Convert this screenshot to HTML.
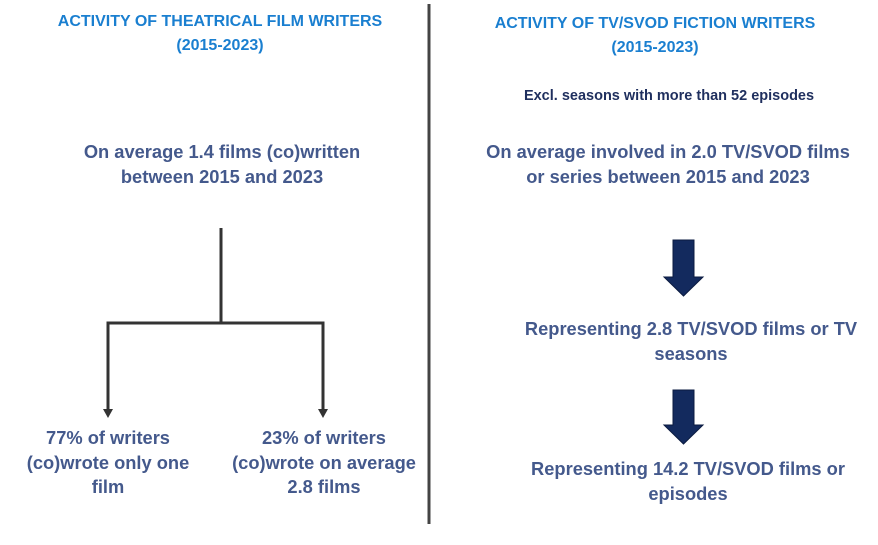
<!DOCTYPE html>
<html><head><meta charset="utf-8"><style>
body{margin:0;width:878px;height:545px;background:#fff;position:relative;overflow:hidden;font-family:"Liberation Sans",sans-serif;font-weight:bold}
.t{position:absolute;transform:translateX(-50%);text-align:center;white-space:nowrap}
.h{color:#1a7fd0;font-size:16px;line-height:24px}
.b{color:#44598c;font-size:18.3px;line-height:24.5px}
</style></head><body>
<div class="t h" style="left:220px;top:10px">ACTIVITY OF THEATRICAL FILM WRITERS<br>(2015-2023)</div>
<div class="t h" style="left:655px;top:12px">ACTIVITY OF TV/SVOD FICTION WRITERS<br>(2015-2023)</div>
<div class="t" style="left:669px;top:88px;color:#1f2f5e;font-size:14.5px">Excl. seasons with more than 52 episodes</div>
<div class="t b" style="left:222px;top:140px">On average 1.4 films (co)written<br>between 2015 and 2023</div>
<div class="t b" style="left:668px;top:140px">On average involved in 2.0 TV/SVOD films<br>or series between 2015 and 2023</div>
<div class="t b" style="left:691px;top:317px">Representing 2.8 TV/SVOD films or TV<br>seasons</div>
<div class="t b" style="left:688px;top:457px">Representing 14.2 TV/SVOD films or<br>episodes</div>
<div class="t b" style="left:108px;top:426px">77% of writers<br>(co)wrote only one<br>film</div>
<div class="t b" style="left:324px;top:426px">23% of writers<br>(co)wrote on average<br>2.8 films</div>
<svg width="878" height="545" style="position:absolute;left:0;top:0">
<line x1="429" y1="4" x2="429" y2="524" stroke="#444" stroke-width="3"/>
<g stroke="#333" stroke-width="3" fill="none">
<line x1="221" y1="228" x2="221" y2="323"/>
<polyline points="108,410 108,323 323,323 323,410"/>
</g>
<polygon points="103,409 113,409 108,418" fill="#333"/>
<polygon points="318,409 328,409 323,418" fill="#333"/>
<polygon points="673,240 694,240 694,277 703,277 683.5,296 664,277 673,277" fill="#132a5e" stroke="#0b1b40"/>
<polygon points="673,390 694,390 694,425 703,425 683.5,444 664,425 673,425" fill="#132a5e" stroke="#0b1b40"/>
</svg>
</body></html>
